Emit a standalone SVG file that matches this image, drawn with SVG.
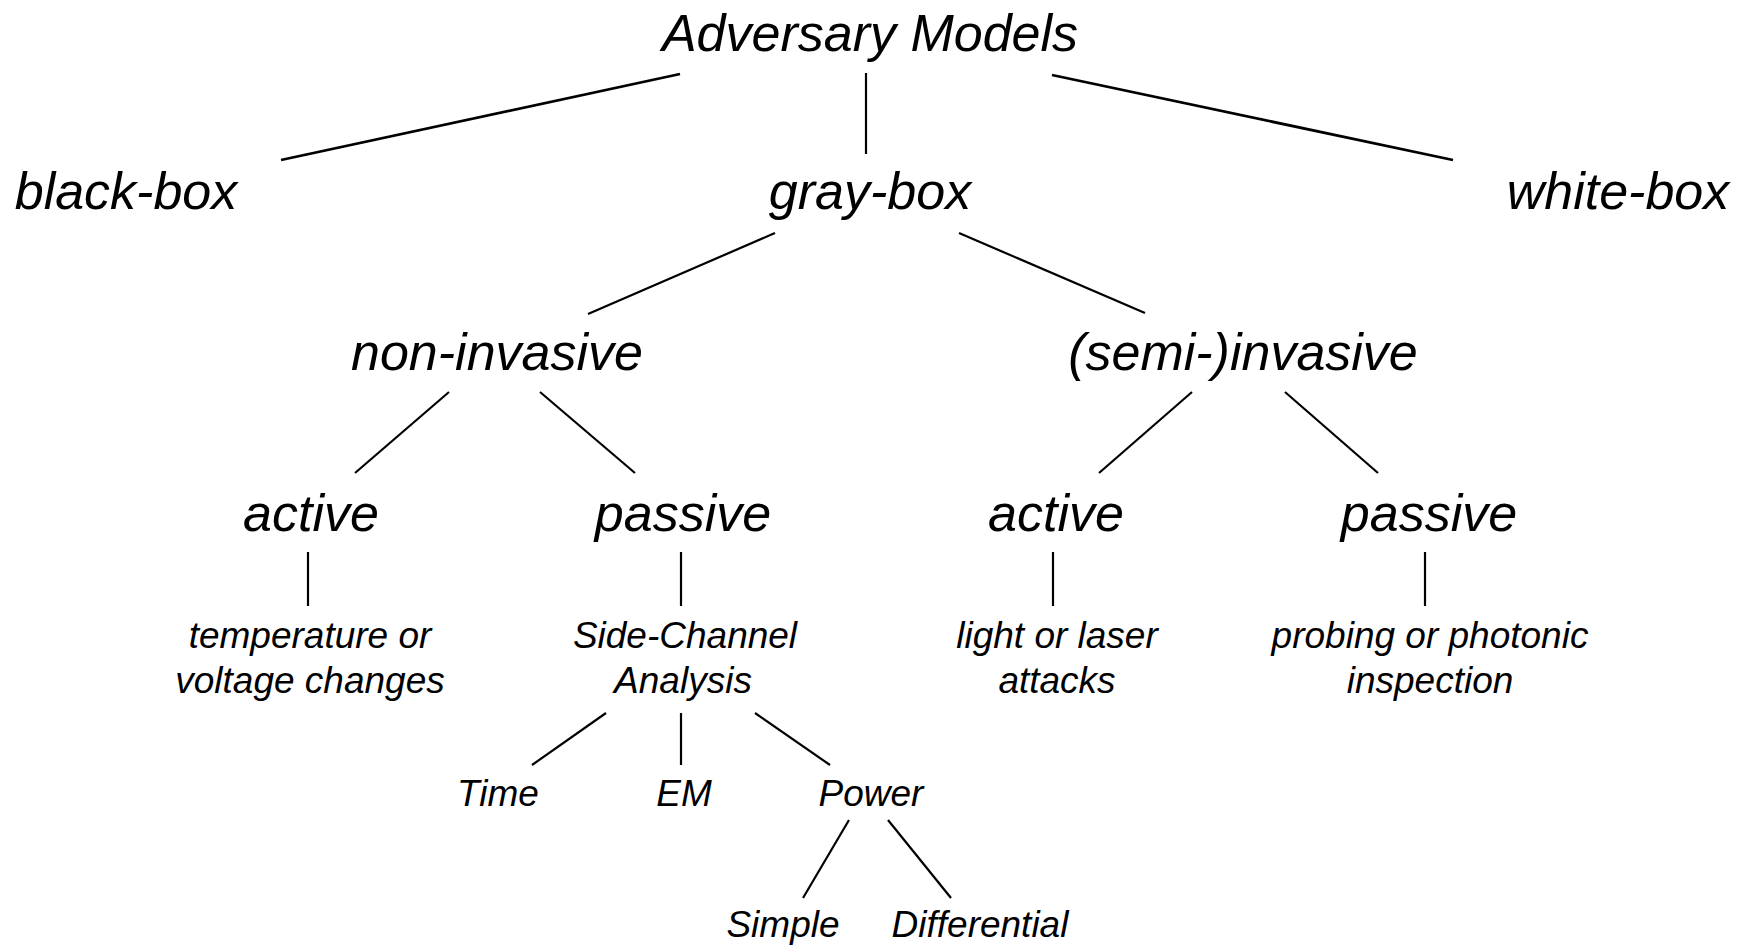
<svg xmlns="http://www.w3.org/2000/svg" width="1750" height="946" viewBox="0 0 1750 946">
<style>
text { font-family: "Liberation Sans", Arial, sans-serif; font-style: italic; fill: #000; text-anchor: middle; }
.big { font-size: 52px; }
.small { font-size: 37px; }
.conn line { stroke: #000; stroke-width: 2.2; stroke-linecap: butt; }
.conn line.top { stroke-width: 2.8; }
</style>
<rect width="1750" height="946" fill="#fff"/>
<g id="connectors" class="conn">
<line class="top" x1="680" y1="74" x2="281" y2="160"/>
<line x1="866" y1="73" x2="866" y2="154"/>
<line class="top" x1="1052" y1="75" x2="1453" y2="160"/>
<line x1="775" y1="233" x2="588" y2="314"/>
<line x1="959" y1="233" x2="1145" y2="313"/>
<line x1="449" y1="392" x2="355" y2="473"/>
<line x1="540" y1="392" x2="635" y2="473"/>
<line x1="1192" y1="392" x2="1099" y2="473"/>
<line x1="1285" y1="392" x2="1378" y2="473"/>
<line x1="308" y1="552" x2="308" y2="606"/>
<line x1="681" y1="552" x2="681" y2="606"/>
<line x1="1053" y1="552" x2="1053" y2="606"/>
<line x1="1425" y1="552" x2="1425" y2="606"/>
<line x1="606" y1="713" x2="532" y2="765"/>
<line x1="681" y1="713" x2="681" y2="765"/>
<line x1="755" y1="713" x2="830" y2="765"/>
<line x1="849" y1="820" x2="803" y2="898"/>
<line x1="888" y1="820" x2="951" y2="898"/>
</g>
<g id="root"><text class="big" x="870" y="51">Adversary Models</text></g>
<g id="black-box"><text class="big" x="126" y="209">black-box</text></g>
<g id="gray-box"><text class="big" x="870" y="209">gray-box</text></g>
<g id="white-box"><text class="big" x="1618" y="209">white-box</text></g>
<g id="non-invasive"><text class="big" x="497" y="370">non-invasive</text></g>
<g id="semi-invasive"><text class="big" x="1243" y="370">(semi-)invasive</text></g>
<g id="ni-active"><text class="big" x="311" y="531">active</text></g>
<g id="ni-passive"><text class="big" x="683" y="531">passive</text></g>
<g id="si-active"><text class="big" x="1056" y="531">active</text></g>
<g id="si-passive"><text class="big" x="1429" y="531">passive</text></g>
<g id="temperature"><text class="small" x="310" y="648">temperature or</text><text class="small" x="310" y="693">voltage changes</text></g>
<g id="sca"><text class="small" x="685" y="648">Side-Channel</text><text class="small" x="683" y="693">Analysis</text></g>
<g id="light"><text class="small" x="1057" y="648">light or laser</text><text class="small" x="1057" y="693">attacks</text></g>
<g id="probing"><text class="small" x="1430" y="648">probing or photonic</text><text class="small" x="1430" y="693">inspection</text></g>
<g id="time"><text class="small" x="498" y="806">Time</text></g>
<g id="em"><text class="small" x="684" y="806">EM</text></g>
<g id="power"><text class="small" x="871" y="806">Power</text></g>
<g id="simple"><text class="small" x="783" y="937">Simple</text></g>
<g id="differential"><text class="small" x="980" y="937">Differential</text></g>
</svg>
